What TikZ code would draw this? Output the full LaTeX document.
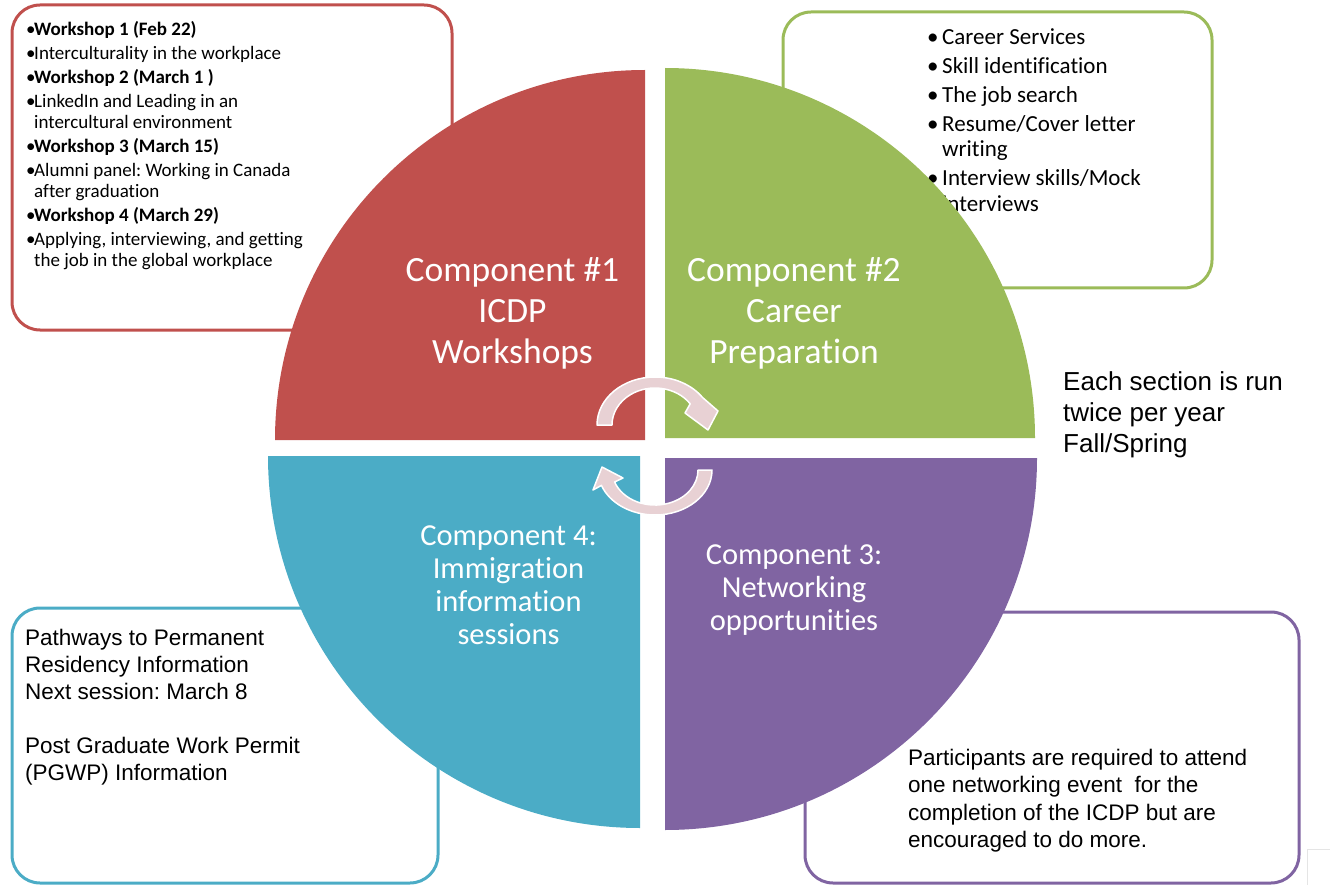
\documentclass[tikz,border=0pt]{standalone}
\usepackage{fontspec}
\setmainfont{Carlito}[Ligatures=NoCommon]
\newfontfamily\arialfont{Liberation Sans}
\usepackage{xcolor}
\usepackage{tikz}
\frenchspacing
\definecolor{compred}{HTML}{C0504D}
\definecolor{compgreen}{HTML}{9BBB59}
\definecolor{compblue}{HTML}{4BACC6}
\definecolor{comppurple}{HTML}{8064A2}
\definecolor{cyclepink}{HTML}{E8D1D4}
\newcommand{\wsbul}{\makebox[8pt][l]{\textbullet}}
\newcommand{\wsind}{\hspace*{8pt}}
\newcommand{\cpbul}{\makebox[15pt][l]{\textbullet}}
\newcommand{\cpind}{\hspace*{15pt}}
\tikzset{
  infobox/.style={line width=3pt, rounded corners=28pt},
  boxtext/.style={anchor=north west, inner sep=0pt, align=left},
  bigname/.style={text=white, align=center, inner sep=0pt, anchor=north,
    font=\fontsize{35.5}{41}\selectfont},
  smallname/.style={text=white, align=center, inner sep=0pt, anchor=north,
    font=\fontsize{30.5}{33}\selectfont},
  cyclearrow/.style={fill=cyclepink, draw=white, line width=1.5pt, line join=round},
}

\begin{document}
\begin{tikzpicture}[x=1pt,y=1pt]
  \useasboundingbox (0,0) rectangle (1330,-885);
  % side boxes
  \draw[infobox,compred] (12,-5) rectangle (452,-330);
  \draw[infobox,compgreen] (783,-12) rectangle (1212,-288);
  \draw[infobox,compblue] (12,-608) rectangle (438,-883);
  \draw[infobox,comppurple] (805,-612) rectangle (1299,-883);
  \draw[gray!20, line width=1pt] (1307,-885) -- (1307,-849) -- (1330,-849);
  \node[boxtext, font=\fontsize{19}{21}\selectfont] (wslist) at (26,-21)
    {\wsbul\textbf{Workshop 1 (Feb 22)}\\[3pt]
     \wsbul Interculturality in the workplace\\[3pt]
     \wsbul\textbf{Workshop 2 (March 1 )}\\[3pt]
     \wsbul LinkedIn and Leading in an\\
     \wsind intercultural environment\\[3pt]
     \wsbul\textbf{Workshop 3 (March 15)}\\[3pt]
     \wsbul Alumni panel: Working in Canada\\
     \wsind after graduation\\[3pt]
     \wsbul\textbf{Workshop 4 (March 29)}\\[3pt]
     \wsbul Applying, interviewing, and getting\\
     \wsind the job in the global workplace};
  \node[boxtext, font=\fontsize{23}{25.5}\selectfont] (cplist) at (927,-28)
    {\cpbul Career Services\\[3.5pt]
     \cpbul Skill identification\\[3.5pt]
     \cpbul The job search\\[3.5pt]
     \cpbul Resume/Cover letter\\
     \cpind writing\\[3.5pt]
     \cpbul Interview skills/Mock\\
     \cpind interviews};
  \node[boxtext, font=\arialfont\fontsize{22.5}{27}\selectfont] (immtext) at (25,-628.5)
    {Pathways to Permanent\\
     Residency Information\\
     Next session: March 8\\[27pt]
     Post Graduate Work Permit\\
     (PGWP) Information};
  \node[boxtext, font=\arialfont\fontsize{22.5}{27.5}\selectfont] (nettext) at (908,-748.5)
    {Participants are required to attend\\
     one networking event\ \ for the\\
     completion of the ICDP but are\\
     encouraged to do more.};
  \node[boxtext, font=\arialfont\fontsize{26}{31}\selectfont] (runtext) at (1063,-371)
    {Each section is run\\
     twice per year\\
     Fall/Spring};
  % quadrants
  \fill[compred] (645,-440) -- (275,-440) arc[start angle=180, end angle=90, radius=370] -- cycle;
  \fill[compgreen] (665,-438) -- (665,-68) arc[start angle=90, end angle=0, radius=370] -- cycle;
  \fill[compblue] (640,-456) -- (268,-456) arc[start angle=180, end angle=270, radius=372] -- cycle;
  \fill[comppurple] (665,-458) -- (1037,-458) arc[start angle=0, end angle=-90, radius=372] -- cycle;
  \node[bigname] (comp1) at (512.5,-257) {Component \#1\\ICDP\\Workshops};
  \node[bigname] (comp2) at (794,-257) {Component \#2\\Career\\Preparation};
  \node[smallname] (comp4) at (508.5,-526) {Component 4:\\Immigration\\information\\sessions};
  \node[smallname] (comp3) at (794,-545) {Component 3:\\Networking\\opportunities};
  % cycle arrows
  \draw[cyclearrow] (597,-425) arc[start angle=180, end angle=35, x radius=58, y radius=48]
    -- (718,-411) -- (708,-430) -- (685,-413) -- (690.2,-403.8)
    arc[start angle=35, end angle=180, x radius=43, y radius=37] -- cycle;
  \draw[cyclearrow] (712,-470) arc[start angle=0, end angle=-160, x radius=57, y radius=45]
    -- (593,-490) -- (602,-467) -- (623,-478) -- (614.6,-482)
    arc[start angle=-160, end angle=0, x radius=43, y radius=35] -- cycle;
\end{tikzpicture}
\end{document}
